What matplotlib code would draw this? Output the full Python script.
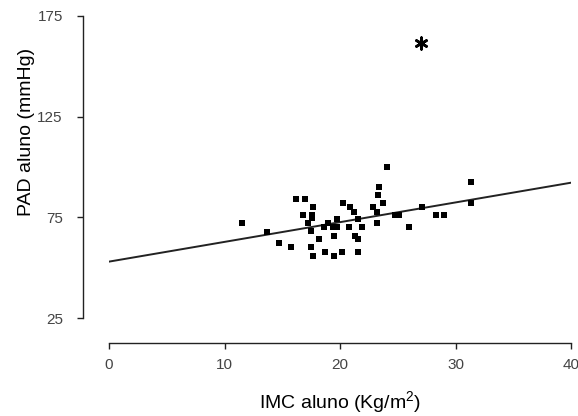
import matplotlib
matplotlib.use("Agg")
import matplotlib.pyplot as plt
import numpy as np

plt.rcParams['font.family'] = ['Liberation Sans', 'DejaVu Sans']
plt.rcParams['mathtext.fontset'] = 'custom'
plt.rcParams['mathtext.rm'] = 'Liberation Sans'
plt.rcParams['mathtext.it'] = 'Liberation Sans'

imc = [11.5, 13.7, 14.7, 15.8, 16.2, 17.0, 17.7, 16.8, 17.6, 17.6, 17.2, 17.5,
       18.2, 17.5, 17.7, 18.7, 19.5, 20.2, 18.6, 19.0, 19.7, 19.4, 19.7, 19.5,
       20.3, 20.9, 21.2, 20.8, 21.3, 21.6, 21.6, 21.6, 21.9, 22.9, 23.2, 23.2,
       23.4, 23.3, 23.7, 24.1, 24.8, 25.1, 26.0, 27.1, 28.3, 29.0, 31.3, 31.3]
pad = [72.2, 67.8, 62.3, 60.3, 84.1, 84.1, 80.2, 76.2, 76.2, 74.7, 72.2, 68.3,
       64.3, 60.3, 55.8, 57.8, 55.8, 57.8, 70.2, 72.2, 74.2, 70.2, 70.2, 65.8,
       82.2, 80.2, 77.7, 70.2, 65.8, 64.3, 57.8, 74.2, 70.2, 80.2, 77.7, 72.2,
       90.1, 86.1, 82.2, 100.0, 76.2, 76.2, 70.2, 80.2, 76.2, 76.2, 92.6, 82.2]

outlier_x = [27.0]
outlier_y = [161.5]

intercept = 53.0
slope = 0.98
line_x = [0, 40]

x_ticks = [0, 10, 20, 30, 40]
y_ticks = [25, 75, 125, 175]

fig = plt.figure(figsize=(5.78, 4.16), dpi=100)
W, H = 578, 416
ax = fig.add_axes([109 / W, 1 - 318 / H, (571 - 109) / W, (318 - 16) / H])

ax.plot(line_x, [intercept + slope * v for v in line_x], color='#222222', lw=1.4, zorder=2)
ax.scatter(imc, pad, marker='s', s=22, color='black', linewidths=0, zorder=3)
ax.scatter(outlier_x, outlier_y, marker=(6, 2, 0), s=70, color='black', linewidths=1.9, zorder=3)

ax.set_xlim(0, 40)
ax.set_ylim(25, 175)
ax.set_xticks(x_ticks)
ax.set_yticks(y_ticks)

for s in ['top', 'right']:
    ax.spines[s].set_visible(False)
ax.spines['left'].set_position(('outward', 26 * 0.72))
ax.spines['bottom'].set_position(('outward', 25 * 0.72))
for s in ['left', 'bottom']:
    ax.spines[s].set_linewidth(1.0)
    ax.spines[s].set_color('#222222')

ax.tick_params(axis='y', length=4.5, width=1.0, pad=10, labelsize=11, labelcolor='#444444', color='#222222')
ax.tick_params(axis='x', length=4.5, width=1.0, pad=6, labelsize=11, labelcolor='#444444', color='#222222')

fig.text(27 / W, 1 - 131.5 / H, 'PAD aluno (mmHg)', rotation=90, ha='center', va='center', fontsize=14)
fig.text(340 / W, 1 - 402 / H, 'IMC aluno (Kg/m$^2$)', ha='center', va='center', fontsize=14)
ax.patch.set_alpha(0)

fig.savefig('out.png', dpi=100)
